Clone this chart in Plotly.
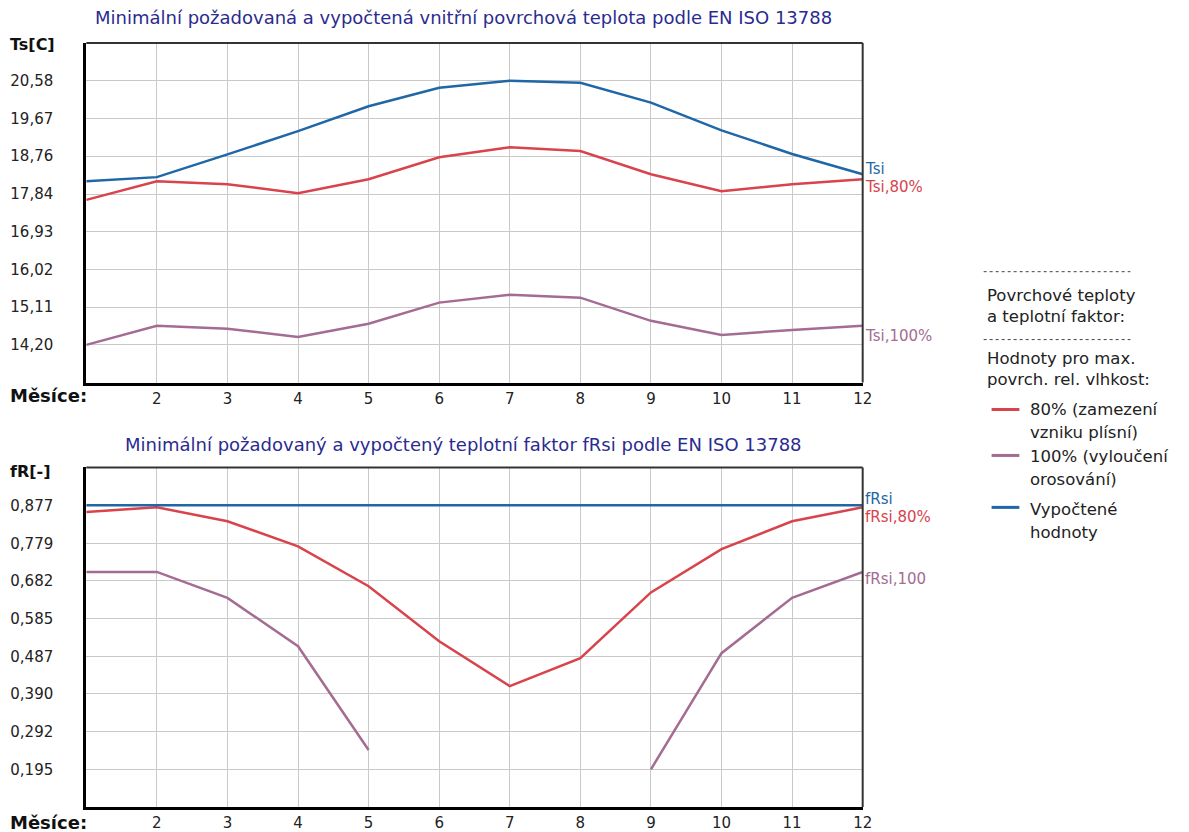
import plotly.graph_objects as go

W, H = 1189, 832

months = [1, 2, 3, 4, 5, 6, 7, 8, 9, 10, 11, 12]
x_tick_vals = [2, 3, 4, 5, 6, 7, 8, 9, 10, 11, 12]
x_tick_text = ["2", "3", "4", "5", "6", "7", "8", "9", "10", "11", "12"]

# Top chart: surface temperatures [°C]
tsi = [18.15, 18.25, 18.80, 19.36, 19.96, 20.41, 20.58, 20.53, 20.05, 19.38, 18.81, 18.32]
tsi_80 = [17.70, 18.15, 18.08, 17.86, 18.20, 18.73, 18.97, 18.88, 18.32, 17.91, 18.08, 18.20]
tsi_100 = [14.20, 14.66, 14.59, 14.39, 14.71, 15.22, 15.41, 15.34, 14.78, 14.44, 14.56, 14.66]
ts_tick_vals = [14.20, 15.11, 16.02, 16.93, 17.84, 18.76, 19.67, 20.58]
ts_tick_text = ["14,20", "15,11", "16,02", "16,93", "17,84", "18,76", "19,67", "20,58"]
ts_range = [13.29, 21.49]

# Bottom chart: temperature factor fRsi [-]
frsi = [0.877] * 12
frsi_80 = [0.860, 0.872, 0.836, 0.771, 0.668, 0.526, 0.410, 0.482, 0.652, 0.764, 0.836, 0.872]
frsi_100 = [0.705, 0.705, 0.638, 0.513, 0.245, None, None, None, 0.195, 0.495, 0.638, 0.705]
fr_tick_vals = [0.195, 0.292, 0.390, 0.487, 0.585, 0.682, 0.779, 0.877]
fr_tick_text = ["0,195", "0,292", "0,390", "0,487", "0,585", "0,682", "0,779", "0,877"]
fr_range = [0.0975, 0.975]

BLUE = "#1f67a6"
RED = "#d8434c"
PURPLE = "#a46c92"
TITLE_C = "#2b2b8f"
FONT = "DejaVu Sans"


def px(x):
    return x / W


def py(y):
    return 1 - y / H


fig = go.Figure()

for xa, ya, series in [
    ("x", "y", [(tsi_100, PURPLE), (tsi_80, RED), (tsi, BLUE)]),
    ("x2", "y2", [(frsi_100, PURPLE), (frsi_80, RED), (frsi, BLUE)]),
]:
    for vals, col in series:
        fig.add_trace(go.Scatter(x=months, y=vals, mode="lines", xaxis=xa, yaxis=ya,
                                 line=dict(color=col, width=2.5), connectgaps=False,
                                 showlegend=False, hoverinfo="skip"))

xdom = [px(87), px(870)]
axis_common = dict(showgrid=True, gridcolor="#c9c9c9", gridwidth=1, zeroline=False,
                   showline=True, linecolor="black", linewidth=3, ticks="",
                   tickfont=dict(family=FONT, size=15, color="#222"))

fig.update_layout(
    width=W, height=H, margin=dict(l=0, r=0, t=0, b=0),
    paper_bgcolor="white", plot_bgcolor="white",
    xaxis=dict(domain=xdom, range=[1, 12], tickvals=x_tick_vals, ticktext=x_tick_text,
               anchor="y", **axis_common),
    yaxis=dict(domain=[py(383), py(43)], range=ts_range, tickvals=ts_tick_vals,
               ticktext=ts_tick_text, anchor="x", ticklabelstandoff=27, **axis_common),
    xaxis2=dict(domain=xdom, range=[1, 12], tickvals=x_tick_vals, ticktext=x_tick_text,
                anchor="y2", **axis_common),
    yaxis2=dict(domain=[py(808), py(468)], range=fr_range, tickvals=fr_tick_vals,
                ticktext=fr_tick_text, anchor="x2", ticklabelstandoff=27, **axis_common),
)

shapes = []
for xr, yr in [("x domain", "y domain"), ("x2 domain", "y2 domain")]:
    shapes.append(dict(type="line", xref=xr, yref=yr, x0=0, x1=1, y0=1, y1=1,
                       line=dict(color="#333", width=2)))
    shapes.append(dict(type="line", xref=xr, yref=yr, x0=1, x1=1, y0=0, y1=1,
                       line=dict(color="#333", width=2)))

# legend separators and swatches
for yy in [272, 340]:
    shapes.append(dict(type="line", xref="paper", yref="paper", x0=px(992), x1=px(1140),
                       y0=py(yy), y1=py(yy), line=dict(color="#444", width=1, dash="dot")))
for yy, col in [(410, RED), (456, PURPLE), (508, BLUE)]:
    shapes.append(dict(type="line", xref="paper", yref="paper", x0=px(1000), x1=px(1028),
                       y0=py(yy), y1=py(yy), line=dict(color=col, width=3)))
fig.update_layout(shapes=shapes)

ann = []


def text(x, y, s, size=15, color="#222", bold=False, xanchor="left"):
    ann.append(dict(x=px(x), y=py(y), xref="paper", yref="paper", text=f"<b>{s}</b>" if bold else s,
                    showarrow=False, xanchor=xanchor, yanchor="middle",
                    font=dict(family=FONT, size=size, color=color)))


text(467, 18, "Minimální požadovaná a vypočtená vnitřní povrchová teplota podle EN ISO 13788",
     size=18, color=TITLE_C, xanchor="center")
text(467, 445, "Minimální požadovaný a vypočtený teplotní faktor fRsi podle EN ISO 13788",
     size=18, color=TITLE_C, xanchor="center")
text(8, 45, "Ts[C]", size=16, color="#111", bold=True)
text(8, 472, "fR[-]", size=16, color="#111", bold=True)
text(8, 396, "Měsíce:", size=18, color="#111", bold=True)
text(8, 823, "Měsíce:", size=18, color="#111", bold=True)

text(870, 169, "Tsi", size=15, color=BLUE)
text(870, 187, "Tsi,80%", size=15, color=RED)
text(870, 336, "Tsi,100%", size=15, color=PURPLE)
text(870, 500, "fRsi", size=15, color=BLUE)
text(870, 518, "fRsi,80%", size=15, color=RED)
text(870, 580, "fRsi,100", size=15, color=PURPLE)

for yy, s, xx in [(296, "Povrchové teploty", 993), (317, "a teplotní faktor:", 993),
                  (359, "Hodnoty pro max.", 993), (380, "povrch. rel. vlhkost:", 993),
                  (410, "80% (zamezení", 1037), (433, "vzniku plísní)", 1037),
                  (457, "100% (vyloučení", 1037), (480, "orosování)", 1037),
                  (510, "Vypočtené", 1037), (533, "hodnoty", 1037)]:
    text(xx, yy, s, size=16.5, color="#222")

fig.update_layout(annotations=ann)
fig.write_html("out.html")
